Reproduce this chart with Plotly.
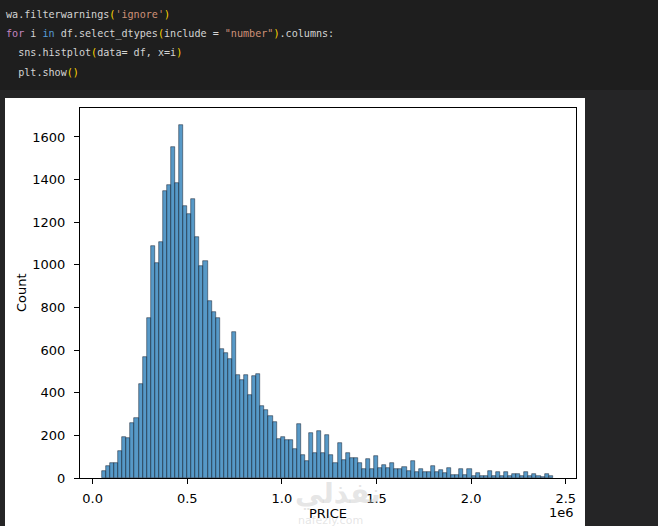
import plotly.graph_objects as go

# histogram of PRICE (111 equal bins)
bin_start = 49000
bin_width = 21460
counts = [
    33, 56, 71, 71, 126, 191, 186, 257, 281, 440,
    568, 753, 1087, 1009, 1105, 1346, 1377, 1551, 1382, 1655,
    1275, 1241, 1311, 1129, 993, 1016, 831, 781, 753, 604,
    585, 557, 687, 483, 460, 483, 389, 479, 488, 339,
    319, 292, 261, 185, 193, 177, 177, 135, 253, 107,
    79, 213, 118, 222, 118, 201, 107, 71, 165, 83,
    118, 96, 96, 71, 44, 88, 44, 102, 47, 62,
    49, 72, 42, 42, 52, 33, 81, 30, 43, 26,
    30, 57, 27, 38, 25, 47, 15, 15, 43, 15,
    42, 11, 25, 11, 9, 33, 11, 30, 11, 30,
    9, 17, 20, 11, 30, 11, 17, 11, 6, 20,
    11,
]
x_ticks = [0, 500000, 1000000, 1500000, 2000000, 2500000]
x_tick_labels = ["0.0", "0.5", "1.0", "1.5", "2.0", "2.5"]
y_ticks = [0, 200, 400, 600, 800, 1000, 1200, 1400, 1600]

# notebook cell source, as (text, colour) pieces per line
TXT, KW, KW2, STR, BR = "#d4d4d4", "#c586c0", "#569cd6", "#ce9178", "#ffd700"
code_lines = [
    [("wa.filterwarnings", TXT), ("(", BR), ("'ignore'", STR), (")", BR)],
    [("for", KW), (" i ", TXT), ("in", KW2), (" df.select_dtypes", TXT), ("(", BR),
     ("include = ", TXT), ('"number"', STR), (")", BR), (".columns:", TXT)],
    [("  sns.histplot", TXT), ("(", BR), ("data= df, x=i", TXT), (")", BR)],
    [("  plt.show", TXT), ("()", BR)],
]

W, H = 658, 526
L, R, T, B = 80, 576, 108, 478


def px(x):
    return (x - L) / (R - L)


def py(y):
    return (B - y) / (B - T)


def code_html(pieces):
    out = ""
    for text, color in pieces:
        out += '<span style="color:%s">%s</span>' % (color, text.replace(" ", "&nbsp;"))
    return out


centers = [bin_start + bin_width * (i + 0.5) for i in range(len(counts))]

fig = go.Figure()
fig.add_trace(go.Bar(
    x=centers, y=counts, width=bin_width,
    marker=dict(color="rgba(31,119,180,0.75)",
                line=dict(color="rgba(20,30,45,0.85)", width=0.6)),
    hoverinfo="skip",
))

axis_common = dict(
    showline=True, linecolor="black", linewidth=1, mirror=True,
    ticks="outside", ticklen=5, tickwidth=1, tickcolor="black",
    showgrid=False, zeroline=False,
    tickfont=dict(family="DejaVu Sans", size=13, color="black"),
)
fig.update_xaxes(range=[-67000, 2554000], tickvals=x_ticks,
                 ticktext=x_tick_labels, ticklabelstandoff=3, **axis_common)
fig.update_yaxes(range=[0, 1736], tickvals=y_ticks,
                 ticklabelstandoff=6, **axis_common)

shapes = [
    # output area background (slightly lighter than code cell)
    dict(type="rect", xref="paper", yref="paper", x0=px(0), x1=px(W),
         y0=py(H), y1=py(90), fillcolor="#252526", line_width=0, layer="below"),
    # white image of the figure
    dict(type="rect", xref="paper", yref="paper", x0=px(5), x1=px(585),
         y0=py(H), y1=py(98), fillcolor="white", line_width=0, layer="below"),
]

annotations = []
for k, pieces in enumerate(code_lines):
    annotations.append(dict(
        text=code_html(pieces), xref="paper", yref="paper",
        x=px(4), y=py(15 + 19 * k), xanchor="left", yanchor="middle",
        showarrow=False,
        font=dict(family="DejaVu Sans Mono", size=10.1, color=TXT),
    ))

label_font = dict(family="DejaVu Sans", size=13, color="black")
annotations += [
    dict(text="Count", xref="paper", yref="paper", x=px(21), y=py(293),
         textangle=-90, showarrow=False, font=label_font,
         xanchor="center", yanchor="middle"),
    dict(text="PRICE", xref="paper", yref="paper", x=px(328), y=py(513),
         showarrow=False, font=label_font, xanchor="center", yanchor="middle"),
    dict(text="1e6", xref="paper", yref="paper", x=px(576), y=py(512),
         showarrow=False, font=label_font, xanchor="right", yanchor="middle"),
    # site watermark
    dict(text="<b>نفذلي</b>", xref="paper", yref="paper", x=px(338), y=py(493),
         showarrow=False, xanchor="center", yanchor="middle",
         font=dict(family="DejaVu Sans", size=28, color="rgba(190,190,190,0.4)")),
    dict(text="nafezly.com", xref="paper", yref="paper", x=px(330), y=py(520),
         showarrow=False, xanchor="center", yanchor="middle",
         font=dict(family="DejaVu Sans", size=11, color="rgba(190,190,190,0.4)")),
]

fig.update_layout(
    width=W, height=H,
    margin=dict(l=L, r=W - R, t=T, b=H - B, pad=0),
    paper_bgcolor="#1e1e1e", plot_bgcolor="white",
    bargap=0, showlegend=False,
    shapes=shapes, annotations=annotations,
)

# drop the default page margin so the figure fills the window
fig.write_html(
    "out.html",
    config={"displayModeBar": False},
    post_script="document.body.style.margin='0';"
                "document.body.style.overflow='hidden';"
                "document.body.style.background='#1e1e1e';",
)
